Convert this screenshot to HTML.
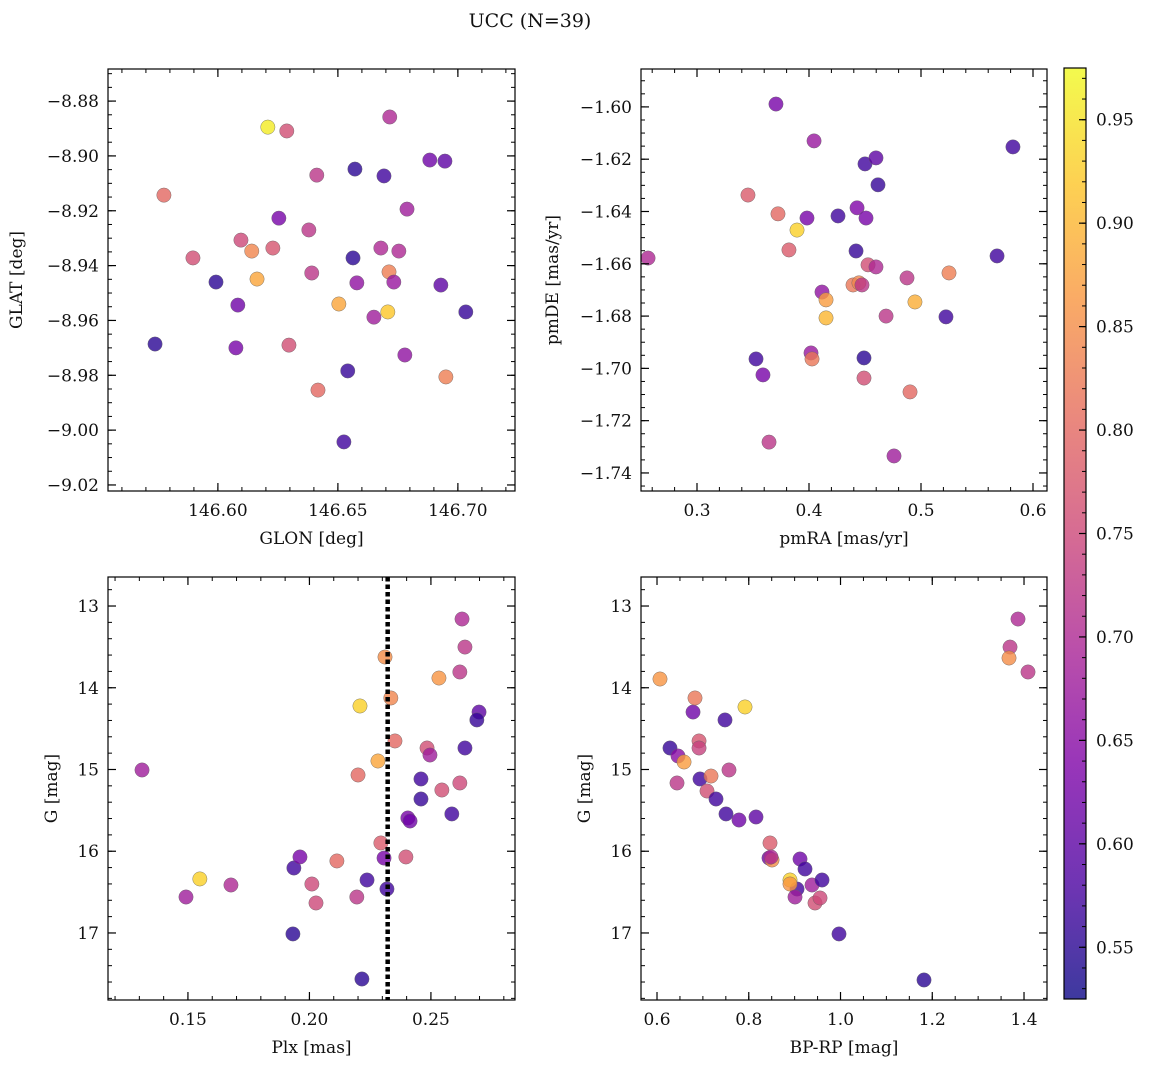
<!DOCTYPE html>
<html><head><meta charset="utf-8">
<style>
html,body{margin:0;padding:0;background:#fff;}
svg text{font-family:"DejaVu Serif","Liberation Serif",serif;fill:#111;}
</style></head>
<body>
<svg id="fig" width="1149" height="1068" viewBox="0 0 1149 1068" xmlns="http://www.w3.org/2000/svg">
<defs>
<linearGradient id="plasmaGrad" x1="0" y1="1" x2="0" y2="0">
<stop offset="0" stop-color="#0d0887"/><stop offset="0.125" stop-color="#4c02a1"/>
<stop offset="0.25" stop-color="#7e03a8"/><stop offset="0.375" stop-color="#a92395"/>
<stop offset="0.5" stop-color="#cc4778"/><stop offset="0.625" stop-color="#e56b5d"/>
<stop offset="0.75" stop-color="#f89540"/><stop offset="0.875" stop-color="#fdc527"/>
<stop offset="1" stop-color="#f0f921"/></linearGradient>
</defs>
<text x="530" y="27" font-size="19" text-anchor="middle">UCC (N=39)</text>
</svg>
<script>
// ---- data ----
const glon = [146.6208,146.6287,146.6716,146.6883,146.6946,146.6571,146.6692,146.6412,146.5775,146.6788,146.6254,146.6379,146.6096,146.6141,146.6229,146.6679,146.6754,146.5896,146.6563,146.6391,146.6713,146.6163,146.5992,146.6579,146.6733,146.6929,146.6504,146.6083,146.6708,146.6650,146.7033,146.5738,146.6296,146.6075,146.6779,146.6541,146.6950,146.6417,146.6525];
const glat = [-8.8895,-8.8909,-8.8858,-8.9015,-8.9019,-8.9048,-8.9073,-8.9070,-8.9143,-8.9194,-8.9227,-8.9270,-8.9307,-8.9347,-8.9336,-8.9336,-8.9347,-8.9372,-8.9372,-8.9427,-8.9423,-8.9449,-8.9460,-8.9463,-8.9460,-8.9471,-8.9540,-8.9544,-8.9569,-8.9588,-8.9569,-8.9686,-8.9690,-8.9700,-8.9726,-8.9784,-8.9806,-8.9854,-9.0043];
const probA = [0.96,0.76,0.70,0.62,0.60,0.55,0.57,0.72,0.80,0.68,0.63,0.72,0.75,0.84,0.77,0.70,0.70,0.76,0.55,0.72,0.83,0.88,0.55,0.66,0.67,0.60,0.88,0.62,0.92,0.68,0.56,0.55,0.76,0.63,0.66,0.56,0.83,0.80,0.57];

const pmra = [0.3705,0.4045,0.3455,0.3723,0.3893,0.3982,0.4259,0.4429,0.4509,0.4500,0.4598,0.4616,0.5821,0.2563,0.3821,0.4420,0.4527,0.4598,0.4116,0.4152,0.4393,0.4446,0.4473,0.4875,0.5250,0.4946,0.4688,0.4152,0.5223,0.5679,0.3527,0.3589,0.4018,0.4027,0.4491,0.4491,0.4902,0.3643,0.4759];
const pmde = [-1.5989,-1.6130,-1.6337,-1.6409,-1.6471,-1.6425,-1.6417,-1.6386,-1.6425,-1.6218,-1.6195,-1.6298,-1.6153,-1.6578,-1.6547,-1.6551,-1.6604,-1.6612,-1.6708,-1.6738,-1.6681,-1.6673,-1.6681,-1.6654,-1.6635,-1.6746,-1.6800,-1.6807,-1.6803,-1.6570,-1.6964,-1.7025,-1.6941,-1.6964,-1.6960,-1.7037,-1.7090,-1.7282,-1.7335];
const probB = [0.63,0.67,0.78,0.80,0.93,0.63,0.57,0.64,0.63,0.57,0.60,0.56,0.57,0.70,0.78,0.56,0.76,0.70,0.66,0.87,0.82,0.84,0.72,0.72,0.83,0.89,0.72,0.90,0.57,0.57,0.57,0.63,0.67,0.82,0.55,0.76,0.80,0.72,0.68];

const plx = [0.1311,0.1492,0.1549,0.1677,0.1932,0.1936,0.1961,0.2010,0.2027,0.2113,0.2200,0.2208,0.2195,0.2237,0.2282,0.2294,0.2307,0.2311,0.2319,0.2335,0.2352,0.2216,0.2397,0.2533,0.2484,0.2496,0.2459,0.2459,0.2405,0.2414,0.2545,0.2619,0.2586,0.2628,0.2640,0.2619,0.2698,0.2689,0.2640];
const gmagC = [15.006,16.560,16.339,16.413,17.012,16.205,16.070,16.401,16.633,16.119,15.067,14.223,16.560,16.352,14.896,15.899,16.083,13.624,16.462,14.125,14.651,17.563,16.070,13.881,14.737,14.823,15.116,15.361,15.593,15.630,15.251,15.165,15.544,13.159,13.502,13.807,14.297,14.394,14.737];
const probC = [0.68,0.68,0.93,0.70,0.55,0.57,0.63,0.75,0.75,0.80,0.80,0.93,0.72,0.57,0.88,0.78,0.63,0.85,0.57,0.84,0.80,0.55,0.76,0.86,0.76,0.68,0.57,0.56,0.63,0.62,0.76,0.75,0.57,0.70,0.72,0.72,0.60,0.56,0.57];
const plxLine = 0.2322;

const bprp = [0.6065,0.6283,0.6458,0.6436,0.6589,0.6785,0.6828,0.6916,0.6916,0.6937,0.7090,0.7177,0.7286,0.7482,0.7569,0.7504,0.7918,0.7787,0.8158,0.8463,0.8441,0.8507,0.8485,0.9117,0.9226,0.9379,0.9052,0.8899,0.8899,0.9008,0.9597,0.9444,0.9553,0.9967,1.1820,1.3869,1.3695,1.3673,1.4087];
const gmagD = [13.893,14.737,14.835,15.165,14.908,14.297,14.125,14.651,14.737,15.116,15.263,15.080,15.361,14.394,15.006,15.544,14.235,15.618,15.581,15.899,16.083,16.107,16.070,16.095,16.217,16.413,16.462,16.352,16.401,16.560,16.352,16.633,16.572,17.012,17.575,13.159,13.502,13.636,13.807];
const probD = [0.86,0.56,0.65,0.72,0.87,0.62,0.82,0.77,0.74,0.57,0.76,0.82,0.57,0.57,0.72,0.57,0.93,0.62,0.60,0.78,0.62,0.85,0.70,0.62,0.57,0.68,0.57,0.93,0.86,0.68,0.57,0.76,0.75,0.57,0.55,0.70,0.72,0.85,0.72];

const cbTicks = [0.55,0.60,0.65,0.70,0.75,0.80,0.85,0.90,0.95];
const cbMin = 0.525, cbMax = 0.975;

// ---- helpers ----
const NS = "http://www.w3.org/2000/svg";
const svg = document.getElementById('fig');
function mk(tag, attrs, parent){const e=document.createElementNS(NS,tag);for(const k in attrs)e.setAttribute(k,attrs[k]);(parent||svg).appendChild(e);return e;}
const stops=[[0,[13,8,135]],[0.125,[76,2,161]],[0.25,[126,3,168]],[0.375,[169,35,149]],[0.5,[204,71,120]],[0.625,[229,107,93]],[0.75,[248,149,64]],[0.875,[253,197,39]],[1,[240,249,33]]];
function plasma(v){let t=(v-cbMin)/(cbMax-cbMin);t=Math.max(0,Math.min(1,t));
 for(let i=1;i<stops.length;i++){if(t<=stops[i][0]){const a=stops[i-1],b=stops[i];const f=(t-a[0])/(b[0]-a[0]);
 const c=a[1].map((x,j)=>Math.round(x+(b[1][j]-x)*f));return `rgb(${c[0]},${c[1]},${c[2]})`;}}return 'rgb(240,249,33)';}
function lin(d0,d1,r0,r1){return v=>r0+(v-d0)/(d1-d0)*(r1-r0);}
function fmt(v,dec){let s=v.toFixed(dec);if(v<0)s='\u2212'+s.slice(1);return s;}

function panel(cfg){
 const g=mk('g',{});
 
 
 const {L,T,R,B}=cfg;
 const sx=lin(cfg.xd[0],cfg.xd[1],L,R), sy=lin(cfg.yd[0],cfg.yd[1],B,T);
 const pg=mk('g',{},g);
 
 
 cfg.x.forEach((xv,i)=>{
  const c=mk('circle',{cx:sx(xv),cy:sy(cfg.y[i]),r:7.2,fill:plasma(cfg.c[i]),'fill-opacity':0.8,stroke:'#666','stroke-opacity':0.8,'stroke-width':0.5},pg);
  
  
 });
 if(cfg.vline!==undefined){
  const l=mk('line',{x1:sx(cfg.vline),x2:sx(cfg.vline),y1:T,y2:B,stroke:'#000','stroke-width':4.5,'stroke-dasharray':'4.5 3'},g);
  
  
 }
 const fr=mk('rect',{x:L,y:T,width:R-L,height:B-T,fill:'none',stroke:'#000','stroke-width':1.2},g);
 
 
 const xt=cfg.xt;
 for(let v=xt.minStart;v<=cfg.xd[1]+1e-9;v+=xt.minor){const p=sx(v);if(p<L||p>R)continue;
  mk('line',{x1:p,x2:p,y1:B,y2:B-4,stroke:'#000','stroke-width':1},g);mk('line',{x1:p,x2:p,y1:T,y2:T+4,stroke:'#000','stroke-width':1},g);}
 xt.major.forEach(v=>{const p=sx(v);
  mk('line',{x1:p,x2:p,y1:B,y2:B-8,stroke:'#000','stroke-width':1.2},g);mk('line',{x1:p,x2:p,y1:T,y2:T+8,stroke:'#000','stroke-width':1.2},g);
  const t=mk('text',{x:p,y:B+25,'font-size':17,'text-anchor':'middle'},g);t.textContent=fmt(v,xt.dec);
  });
 const yt=cfg.yt;
 for(let v=yt.minStart;v<=yt.minEnd+1e-9;v+=yt.minor){const p=sy(v);if(p<T||p>B)continue;
  mk('line',{x1:L,x2:L+4,y1:p,y2:p,stroke:'#000','stroke-width':1},g);mk('line',{x1:R,x2:R-4,y1:p,y2:p,stroke:'#000','stroke-width':1},g);}
 yt.major.forEach(v=>{const p=sy(v);
  mk('line',{x1:L,x2:L+8,y1:p,y2:p,stroke:'#000','stroke-width':1.2},g);mk('line',{x1:R,x2:R-8,y1:p,y2:p,stroke:'#000','stroke-width':1.2},g);
  const t=mk('text',{x:L-9,y:p+6,'font-size':17,'text-anchor':'end'},g);t.textContent=fmt(v,yt.dec);
  });
 const xl=mk('text',{x:(L+R)/2,y:B+53,'font-size':17,'text-anchor':'middle'},g);xl.textContent=cfg.xlabel;
 
 const yl=mk('text',{x:cfg.ylx,y:(T+B)/2,'font-size':17,'text-anchor':'middle',transform:`rotate(-90 ${cfg.ylx} ${(T+B)/2})`},g);yl.textContent=cfg.ylabel;
 
}
const rng=(a,b,s)=>{const o=[];for(let v=a;v<=b+1e-9;v+=s)o.push(+v.toFixed(6));return o;};

panel({name:'glon-glat-panel',L:108,T:69,R:515,B:491,xd:[146.5542,146.7238],yd:[-9.0222,-8.8683],x:glon,y:glat,c:probA,
 xt:{major:[146.60,146.65,146.70],minor:0.01,minStart:146.56,dec:2},
 yt:{major:rng(-9.02,-8.88,0.02),minor:0.005,minStart:-9.02,minEnd:-8.87,dec:2},xlabel:'GLON [deg]',ylabel:'GLAT [deg]',ylx:22});
panel({name:'pm-panel',L:641,T:69,R:1047,B:491,xd:[0.25,0.6125],yd:[-1.7469,-1.5855],x:pmra,y:pmde,c:probB,
 xt:{major:[0.3,0.4,0.5,0.6],minor:0.02,minStart:0.26,dec:1},
 yt:{major:rng(-1.74,-1.60,0.02),minor:0.005,minStart:-1.745,minEnd:-1.585,dec:2},xlabel:'pmRA [mas/yr]',ylabel:'pmDE [mas/yr]',ylx:558});
panel({name:'plx-g-panel',L:108,T:577,R:515,B:1000,xd:[0.1171,0.2846],yd:[17.820,12.645],x:plx,y:gmagC,c:probC,vline:plxLine,
 xt:{major:[0.15,0.20,0.25],minor:0.01,minStart:0.12,dec:2},
 yt:{major:[13,14,15,16,17],minor:0.2,minStart:12.8,minEnd:17.8,dec:0},xlabel:'Plx [mas]',ylabel:'G [mag]',ylx:57});
panel({name:'cmd-panel',L:641,T:577,R:1047,B:1000,xd:[0.5651,1.4501],yd:[17.820,12.645],x:bprp,y:gmagD,c:probD,
 xt:{major:[0.6,0.8,1.0,1.2,1.4],minor:0.05,minStart:0.6,dec:1},
 yt:{major:[13,14,15,16,17],minor:0.2,minStart:12.8,minEnd:17.8,dec:0},xlabel:'BP-RP [mag]',ylabel:'G [mag]',ylx:590});

// colorbar
(function(){
 const L=1064,R=1086,T=68,B=999;
 const g=mk('g',{});
 
 
 mk('rect',{x:L,y:T,width:R-L,height:B-T,fill:'#fff'},g);
 mk('rect',{x:L,y:T,width:R-L,height:B-T,fill:'url(#plasmaGrad)','fill-opacity':0.8},g);
 mk('rect',{x:L,y:T,width:R-L,height:B-T,fill:'none',stroke:'#000','stroke-width':1.2},g);
 const sy=lin(cbMin,cbMax,B,T);
 for(let v=0.53;v<=0.975;v+=0.01){const p=sy(v);mk('line',{x1:R,x2:R-4,y1:p,y2:p,stroke:'#000','stroke-width':1},g);}
 cbTicks.forEach(v=>{const p=sy(v);mk('line',{x1:R,x2:R-7,y1:p,y2:p,stroke:'#000','stroke-width':1.2},g);
  const t=mk('text',{x:R+10,y:p+6,'font-size':17},g);t.textContent=v.toFixed(2);
  });
})();
</script>
</body></html>
